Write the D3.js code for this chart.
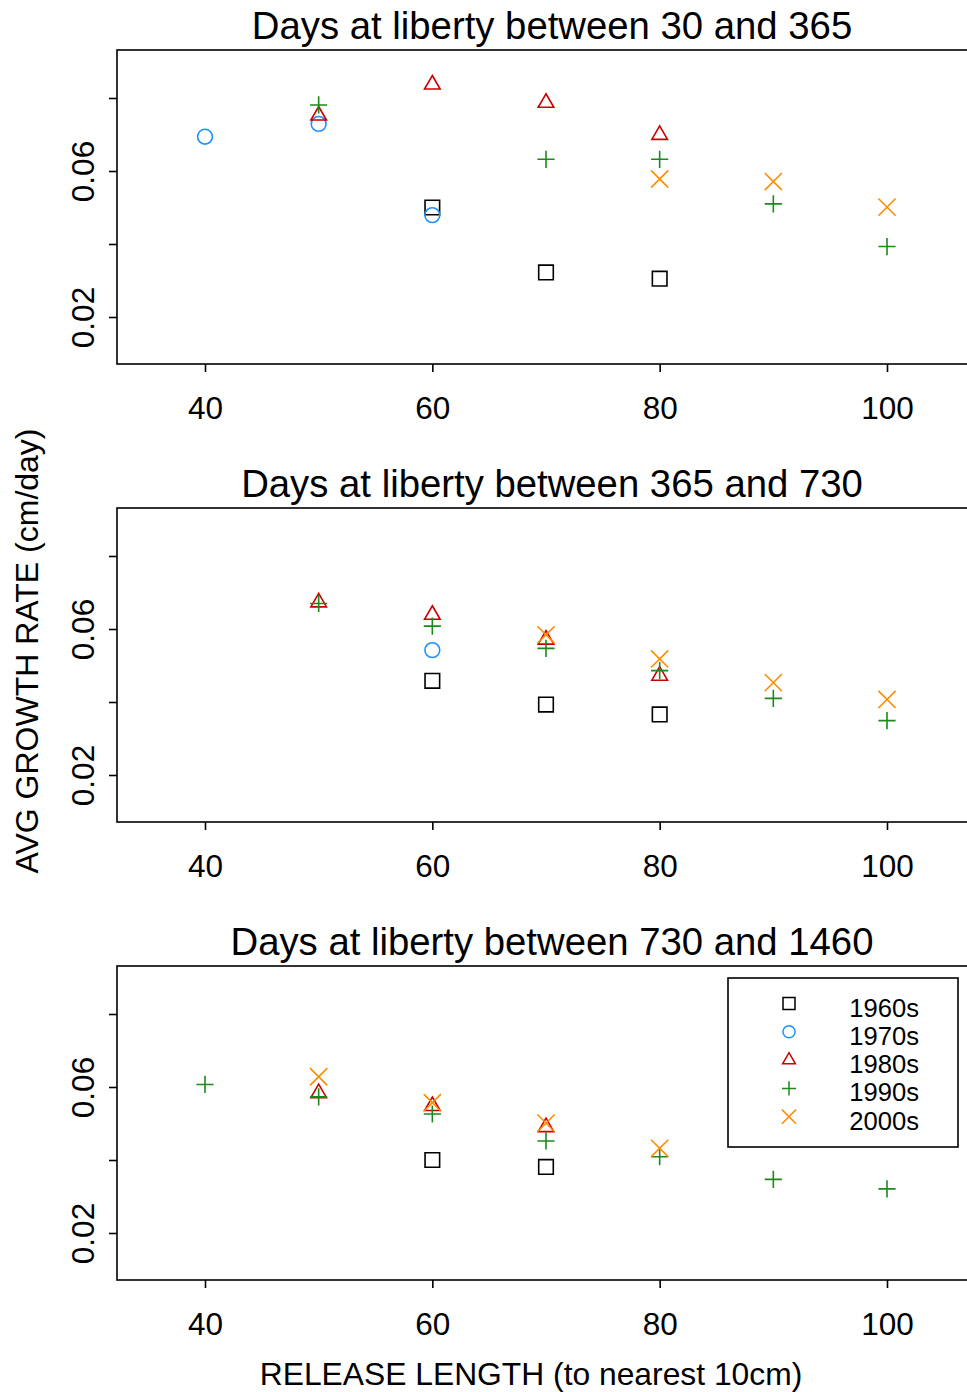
<!DOCTYPE html>
<html><head><meta charset="utf-8">
<script src="https://cdn.jsdelivr.net/npm/d3@7"></script>
<style>body{margin:0;background:#fff}svg{display:block}text{font-family:"Liberation Sans",Arial,sans-serif;fill:#000}</style>
</head><body>
<script>
const decades = ["1960s","1970s","1980s","1990s","2000s"];
const colors = ["#000000","#1E90FF","#CD0000","#1A8B1A","#FF8C00"];
const symbols = ["square","circle","triangle","plus","cross"];
const panelTitles = ["Days at liberty between 30 and 365","Days at liberty between 365 and 730","Days at liberty between 730 and 1460"];
const xTicks = [40,60,80,100];
const yTicks = [0.02,0.04,0.06,0.08];
const yTickLabels = ["0.02","","0.06",""];

// panel 1: 30-365
const p1_1960s = [[60,0.0500],[70,0.0322],[80,0.0305]];
const p1_1970s = [[40,0.0694],[50,0.0729],[60,0.0479]];
const p1_1980s = [[50,0.0752],[60,0.0837],[70,0.0787],[80,0.0699]];
const p1_1990s = [[50,0.0781],[70,0.0632],[80,0.0632],[90,0.0510],[100,0.0393]];
const p1_2000s = [[80,0.0578],[90,0.0571],[100,0.0501]];
// panel 2: 365-730
const p2_1960s = [[60,0.0458],[70,0.0393],[80,0.0366]];
const p2_1970s = [[60,0.0542]];
const p2_1980s = [[50,0.0673],[60,0.0639],[70,0.0571],[80,0.0472]];
const p2_1990s = [[50,0.0670],[60,0.0608],[70,0.0547],[80,0.0486],[90,0.0410],[100,0.0349]];
const p2_2000s = [[70,0.0584],[80,0.0518],[90,0.0453],[100,0.0407]];
// panel 3: 730-1460
const p3_1960s = [[60,0.0400],[70,0.0381]];
const p3_1970s = [];
const p3_1980s = [[50,0.0583],[60,0.0548],[70,0.0490]];
const p3_1990s = [[40,0.0607],[50,0.0573],[60,0.0526],[70,0.0452],[80,0.0409],[90,0.0347],[100,0.0321]];
const p3_2000s = [[50,0.0628],[60,0.0557],[70,0.0501],[80,0.0432]];

const panels = [
  [p1_1960s,p1_1970s,p1_1980s,p1_1990s,p1_2000s],
  [p2_1960s,p2_1970s,p2_1980s,p2_1990s,p2_2000s],
  [p3_1960s,p3_1970s,p3_1980s,p3_1990s,p3_2000s]
];

const W = 967, H = 1392;
const svg = d3.select("body").append("svg").attr("width",W).attr("height",H);

const plotLeft = 117, plotRight = 987, plotH = 314;
const panelTops = [50,508,966];
const x = d3.scaleLinear().domain([40,100]).range([205,887]);

function symPath(type, k){
  k = k || 1;
  const p = d3.path();
  if(type==="square"){ const h=7.3*k; p.rect(-h,-h,2*h,2*h); }
  else if(type==="circle"){ const r=7.4*k; p.moveTo(r,0); p.arc(0,0,r,0,2*Math.PI); }
  else if(type==="triangle"){ const r=9.0*k, xc=r*0.866, yc=r*0.5; p.moveTo(0,-r); p.lineTo(xc,yc); p.lineTo(-xc,yc); p.closePath(); }
  else if(type==="plus"){ const h=8.6*k; p.moveTo(-h,0); p.lineTo(h,0); p.moveTo(0,-h); p.lineTo(0,h); }
  else if(type==="cross"){ const h=8.6*k; p.moveTo(-h,-h); p.lineTo(h,h); p.moveTo(-h,h); p.lineTo(h,-h); }
  return p.toString();
}

panels.forEach((series, pi) => {
  const top = panelTops[pi];
  const y = d3.scaleLinear().domain([0.02,0.06]).range([top+267, top+121]);
  const g = svg.append("g");
  g.append("text").attr("x",552).attr("y",top-11).attr("text-anchor","middle")
    .style("font-size","38.3px").text(panelTitles[pi]);
  g.append("rect").attr("x",plotLeft).attr("y",top).attr("width",plotRight-plotLeft).attr("height",plotH)
    .attr("fill","none").attr("stroke","#000").attr("stroke-width",1.6);
  const xa = g.append("g").attr("transform",`translate(0,${top+plotH})`)
    .call(d3.axisBottom(x).tickValues(xTicks).tickSize(8).tickPadding(0).tickFormat(d3.format("d")));
  xa.select(".domain").remove();
  xa.selectAll("line").attr("stroke","#000").attr("stroke-width",1.6);
  xa.selectAll("text").attr("dy",null).attr("y",55).style("font-size","31.5px").style("font-family",'"Liberation Sans",Arial,sans-serif');
  const ya = g.append("g").attr("transform",`translate(${plotLeft},0)`)
    .call(d3.axisLeft(y).tickValues(yTicks).tickSize(8).tickFormat((d,i)=>yTickLabels[i]));
  ya.select(".domain").remove();
  ya.selectAll("line").attr("stroke","#000").attr("stroke-width",1.6);
  ya.selectAll("text").attr("x",null).attr("dy",null).attr("text-anchor","middle")
    .attr("transform","translate(-23,0) rotate(-90)")
    .style("font-size","31.5px").style("font-family",'"Liberation Sans",Arial,sans-serif');
  series.forEach((pts, si) => {
    g.append("g").selectAll("path").data(pts).enter().append("path")
      .attr("d", symPath(symbols[si]))
      .attr("transform", d => `translate(${x(d[0])},${y(d[1])})`)
      .attr("fill","none").attr("stroke",colors[si]).attr("stroke-width",1.6);
  });
});

const lg = svg.append("g");
lg.append("rect").attr("x",728).attr("y",978).attr("width",230).attr("height",169)
  .attr("fill","#fff").attr("stroke","#000").attr("stroke-width",1.6);
const ly = d3.scaleLinear().domain([0,4]).range([1003.5,1116.7]);
decades.forEach((d,i) => {
  lg.append("path").attr("d",symPath(symbols[i],0.82))
    .attr("transform",`translate(789,${ly(i)})`)
    .attr("fill","none").attr("stroke",colors[i]).attr("stroke-width",1.5);
  lg.append("text").attr("x",919).attr("y",ly(i)+13).attr("text-anchor","end")
    .style("font-size","25.6px").text(d);
});

svg.append("text").attr("x",531).attr("y",1385).attr("text-anchor","middle")
  .style("font-size","31.8px").text("RELEASE LENGTH (to nearest 10cm)");
svg.append("text").attr("transform","translate(38,651) rotate(-90)").attr("text-anchor","middle")
  .style("font-size","32px").text("AVG GROWTH RATE (cm/day)");
</script>
</body></html>
